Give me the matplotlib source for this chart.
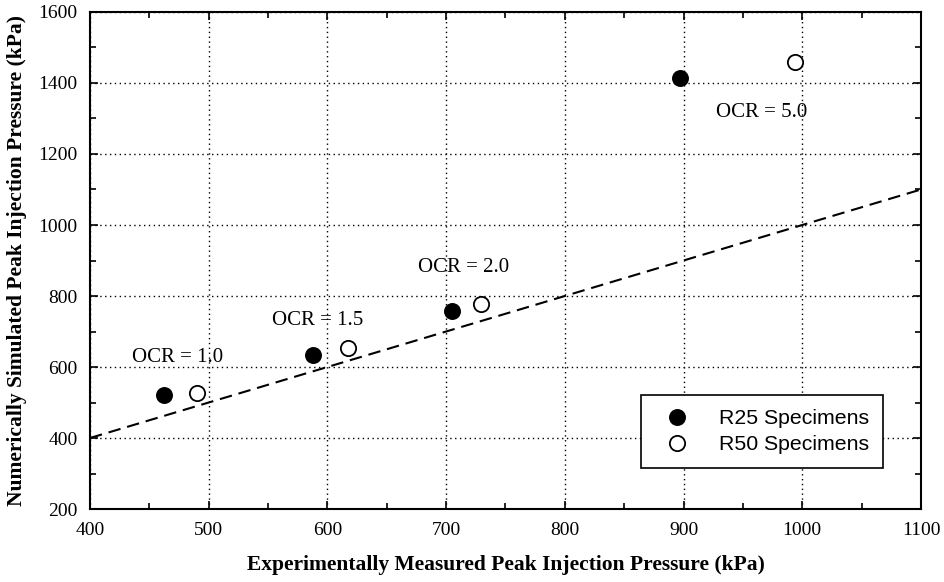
import matplotlib
matplotlib.use("Agg")
import matplotlib.pyplot as plt
from matplotlib.ticker import MultipleLocator

# Data
r25_x = [462, 588, 705, 897]
r25_y = [521, 634, 759, 1413]
r50_x = [490, 617, 729, 994]
r50_y = [528, 653, 778, 1460]
line_x = [400, 1100]
line_y = [400, 1100]
ocr_labels = ["OCR = 1.0", "OCR = 1.5", "OCR = 2.0", "OCR = 5.0"]
ocr_x = [435, 553, 676, 927]
ocr_y = [628, 730, 879, 1318]

serif = ["Liberation Serif", "DejaVu Serif"]
sans = ["Liberation Sans", "DejaVu Sans"]

fig = plt.figure(figsize=(9.45, 5.82), dpi=100)
ax = fig.add_axes([0.0952, 0.1254, 0.9746 - 0.0952, 0.9794 - 0.1254])

ax.plot(line_x, line_y, color="black", lw=1.5, dashes=(6, 3.3), zorder=2)
ax.plot(r25_x, r25_y, "o", ms=11, mfc="black", mec="black", mew=1.2,
        ls="none", label="R25 Specimens", zorder=3)
ax.plot(r50_x, r50_y, "o", ms=11, mfc="white", mec="black", mew=1.3,
        ls="none", label="R50 Specimens", zorder=3)

for t, x, y in zip(ocr_labels, ocr_x, ocr_y):
    ax.text(x, y, t, family=serif, fontsize=15, ha="left", va="center", zorder=4)

ax.set_xlim(400, 1100)
ax.set_ylim(200, 1600)
ax.xaxis.set_major_locator(MultipleLocator(100))
ax.xaxis.set_minor_locator(MultipleLocator(50))
ax.yaxis.set_major_locator(MultipleLocator(200))
ax.yaxis.set_minor_locator(MultipleLocator(100))
ax.grid(True, which="major", color="black", ls=(0, (1, 2.5)), lw=1.0)
ax.tick_params(which="both", direction="in", top=True, right=True, width=1.2)
ax.tick_params(which="major", length=6, labelsize=14, pad=9)
ax.tick_params(which="minor", length=4)
for lab in ax.get_xticklabels() + ax.get_yticklabels():
    lab.set_family(serif)
for s in ax.spines.values():
    s.set_linewidth(1.5)

ax.set_xlabel("Experimentally Measured Peak Injection Pressure (kPa)",
              family=serif, fontsize=15.5, fontweight="bold", labelpad=12)
ax.set_ylabel("Numerically Simulated Peak Injection Pressure (kPa)",
              family=serif, fontsize=15.5, fontweight="bold", labelpad=8)

leg = ax.legend(loc="lower right", bbox_to_anchor=(0.954, 0.082),
                prop={"family": sans, "size": 15.3}, frameon=True, fancybox=False,
                edgecolor="black", framealpha=1, borderpad=0.65, handletextpad=0.9,
                labelspacing=0.35, handlelength=2.1, borderaxespad=0)
leg.get_frame().set_linewidth(1.2)

fig.savefig("out.png", dpi=100)
